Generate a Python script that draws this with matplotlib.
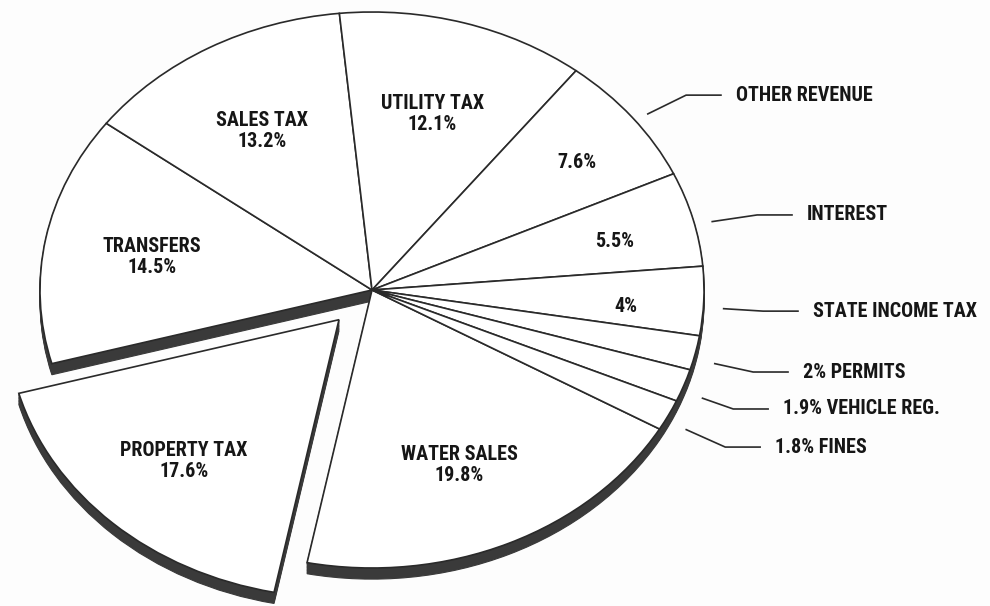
import numpy as np
import matplotlib.pyplot as plt
from matplotlib import font_manager

# revenue shares (percent), clockwise from the water sales slice
names = ['WATER SALES', 'PROPERTY TAX', 'TRANSFERS', 'SALES TAX', 'UTILITY TAX',
         'OTHER REVENUE', 'INTEREST', 'STATE INCOME TAX', 'PERMITS',
         'VEHICLE REG.', 'FINES']
values = [19.8, 17.6, 14.5, 13.2, 12.1, 7.6, 5.5, 4.0, 2.0, 1.9, 1.8]
pct_labels = ['19.8%', '17.6%', '14.5%', '13.2%', '12.1%', '7.6%', '5.5%',
              '4%', '2%', '1.9%', '1.8%']

# --- layout / style ---
explode = [0, 0.146, 0, 0, 0, 0, 0, 0, 0, 0, 0]
start = 330
depth = 0.04          # thickness of the "3D" side wall
ink = '#2a2a2a'
wall = '#3a3a3a'

# label positions (data units, pie radius = 1)
inside_xy = {0: (0.262, -0.629), 1: (-0.566, -0.615), 2: (-0.663, 0.119),
             3: (-0.331, 0.572), 4: (0.181, 0.633), 5: (0.617, 0.457),
             6: (0.732, 0.173), 7: (0.765, -0.058)}
outside_xy = {5: (1.096, 0.701), 6: (1.310, 0.270), 7: (1.328, -0.076),
              8: (1.298, -0.295), 9: (1.238, -0.428), 10: (1.214, -0.565)}

avail = {f.name for f in font_manager.fontManager.ttflist}
fam = 'DejaVu Sans'
size = 12
for cand in ['Liberation Sans Narrow', 'Roboto Condensed']:
    if cand in avail:
        fam = cand
        size = 14.5
        break

fig = plt.figure(figsize=(9.9, 6.06), dpi=100)
fig.patch.set_facecolor('#fdfdfd')
ax = fig.add_axes([0, 0, 1, 1])

# side wall: stacked copies pushed downwards
for dz in np.linspace(depth, 0.003, 8):
    ax.pie(values, explode=explode, startangle=start, counterclock=False,
           center=(0, -dz),
           wedgeprops=dict(facecolor=wall, edgecolor=wall, linewidth=0.8))

wedges, _ = ax.pie(values, explode=explode, startangle=start, counterclock=False,
                   wedgeprops=dict(facecolor='white', edgecolor=ink,
                                   linewidth=1.2))

txt = dict(family=fam, fontsize=size, fontweight='bold', color='#161616')

for i, (x, y) in inside_xy.items():
    s = pct_labels[i] if i in outside_xy else names[i] + '\n' + pct_labels[i]
    ax.text(x, y, s, ha='center', va='center', linespacing=1.15, **txt)

gap, run = 0.045, 0.105
for i, (x, y) in outside_xy.items():
    s = names[i] if i in inside_xy else pct_labels[i] + ' ' + names[i]
    ax.text(x, y, s, ha='left', va='center', **txt)
    w = wedges[i]
    mid = np.deg2rad((w.theta1 + w.theta2) / 2)
    x0 = 1.06 * np.cos(mid)
    y0 = 1.06 * np.sin(mid) - 0.025
    ax.plot([x0, x - gap - run, x - gap], [y0, y, y], color=ink, lw=1.2)

ax.set_aspect('auto')
ax.set_xlim(-1.1205, 1.8614)
ax.set_ylim(-1.1367, 1.0432)
ax.axis('off')

fig.savefig('out.png', dpi=100, facecolor=fig.get_facecolor())
